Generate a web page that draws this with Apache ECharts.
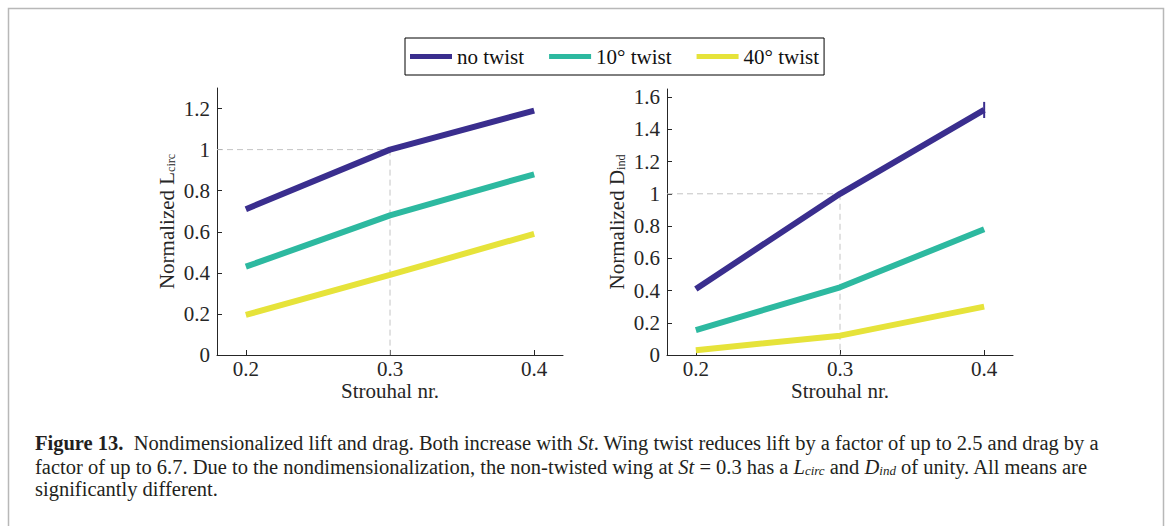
<!DOCTYPE html>
<html>
<head>
<meta charset="utf-8">
<script src="https://cdn.jsdelivr.net/npm/echarts@6/dist/echarts.min.js"></script>
<style>
html,body{margin:0;padding:0;background:#fff;}
#chart{width:1168px;height:526px;}
</style>
</head>
<body>
<div id="chart"></div>
<script>
// ---- data ----
const seriesNames = ['no twist', '10\u00b0 twist', '40\u00b0 twist'];
const strouhal = [0.2, 0.3, 0.4];
const liftNoTwist = [0.71, 1.0, 1.19];
const lift10 = [0.43, 0.68, 0.88];
const lift40 = [0.195, 0.39, 0.59];
const dragNoTwist = [0.41, 1.0, 1.52];
const drag10 = [0.155, 0.42, 0.78];
const drag40 = [0.03, 0.12, 0.30];
const dragNoTwistErr = [null, null, 0.05];
const xTicks = [0.2, 0.3, 0.4];
const liftTicks = [0, 0.2, 0.4, 0.6, 0.8, 1, 1.2];
const dragTicks = [0, 0.2, 0.4, 0.6, 0.8, 1, 1.2, 1.4, 1.6];
const refPoint = [0.3, 1];

// ---- styles ----
const colors = ['#3a2e8e', '#2db9a0', '#e6e33a'];
const FONT = 'Liberation Serif';
const axisColor = '#262626';
const refStyle = {stroke: '#c4c4c4', lineWidth: 1, lineDash: [6, 4]};

function pairs(xs, ys) { return xs.map((x, i) => [x, ys[i]]); }

function xAxisCfg(gridIndex) {
  return {
    type: 'value', gridIndex, min: 0.18, max: 0.42,
    name: 'Strouhal nr.', nameLocation: 'middle', nameGap: 25, nameMoveOverlap: false,
    nameTextStyle: {fontFamily: FONT, fontSize: 21, color: axisColor},
    axisLine: {show: true, lineStyle: {color: axisColor, width: 1}},
    axisTick: {show: true, inside: true, length: 5, customValues: xTicks, lineStyle: {color: axisColor}},
    axisLabel: {customValues: xTicks, fontFamily: FONT, fontSize: 21, color: axisColor, margin: 3,
      formatter: v => v.toFixed(1)},
    splitLine: {show: false}
  };
}
function yAxisCfg(gridIndex, max, ticks, sub, main) {
  return {
    type: 'value', gridIndex, min: 0, max: max,
    name: '{m|' + main + '}{s|' + sub + '}', nameLocation: 'middle', nameRotate: 90, nameGap: 40, nameMoveOverlap: false,
    nameTextStyle: {fontFamily: FONT, fontSize: 21, color: axisColor,
      rich: {
        m: {fontFamily: FONT, fontSize: 21, color: axisColor, lineHeight: 24, verticalAlign: 'bottom'},
        s: {fontFamily: FONT, fontSize: 12, color: axisColor, lineHeight: 12, verticalAlign: 'bottom'}
      }},
    axisLine: {show: true, lineStyle: {color: axisColor, width: 1}},
    axisTick: {show: true, inside: true, length: 5, customValues: ticks, lineStyle: {color: axisColor}},
    axisLabel: {customValues: ticks, fontFamily: FONT, fontSize: 21, color: axisColor, margin: 7},
    splitLine: {show: false}
  };
}

function lineSeries(name, xi, ys, ci) {
  return {
    type: 'line', name, xAxisIndex: xi, yAxisIndex: xi, data: pairs(strouhal, ys),
    showSymbol: false, symbol: 'none', lineStyle: {color: colors[ci], width: 6}, itemStyle: {color: colors[ci]},
    z: 3, silent: true, animation: false
  };
}

function refSeries(xi) {
  return {
    type: 'custom', xAxisIndex: xi, yAxisIndex: xi, data: [refPoint], z: 1, silent: true, animation: false,
    renderItem: function (params, api) {
      const p = api.coord([api.value(0), api.value(1)]);
      const o = api.coord([api.value(0), 0]);
      const left = params.coordSys.x;
      return {type: 'group', children: [
        {type: 'line', shape: {x1: left, y1: p[1], x2: p[0], y2: p[1]}, style: refStyle},
        {type: 'line', shape: {x1: p[0], y1: p[1], x2: p[0], y2: o[1]}, style: refStyle}
      ]};
    }
  };
}

const errData = strouhal.map((x, i) => dragNoTwistErr[i] == null ? null : [x, dragNoTwist[i], dragNoTwistErr[i]]).filter(d => d);

const CAP = 20.5;
const captionRich = {
  b: {fontFamily: FONT, fontSize: CAP, fontWeight: 'bold', fill: '#231f20'},
  i: {fontFamily: FONT, fontSize: CAP, fontStyle: 'italic', fill: '#231f20'},
  s: {fontFamily: FONT, fontSize: 13, fontStyle: 'italic', fill: '#231f20', verticalAlign: 'bottom', lineHeight: 13}
};
function captionLine(text, y) {
  return {type: 'text', left: 35, top: y, silent: true,
    style: {text, fontFamily: FONT, fontSize: CAP, fill: '#231f20', rich: captionRich}};
}

const chart = echarts.init(document.getElementById('chart'), null, {renderer: 'svg'});
chart.setOption({
  backgroundColor: '#fff',
  animation: false,
  textStyle: {fontFamily: FONT},
  legend: {
    data: seriesNames, left: 405, top: 38, orient: 'horizontal',
    icon: 'rect', itemWidth: 42, itemHeight: 5, itemGap: 25,
    padding: [8, 5, 8, 5], borderColor: '#000', borderWidth: 1,
    textStyle: {fontFamily: FONT, fontSize: 21, color: '#111'},
    selectedMode: false
  },
  grid: [
    {left: 217, top: 88, width: 346, height: 267},
    {left: 667, top: 89, width: 346, height: 266}
  ],
  xAxis: [xAxisCfg(0), xAxisCfg(1)],
  yAxis: [
    yAxisCfg(0, 1.3, liftTicks, 'circ', 'Normalized L'),
    yAxisCfg(1, 1.65, dragTicks, 'ind', 'Normalized D')
  ],
  graphic: [
    {type: 'rect', left: 6, top: 6, silent: true, z: -10,
      shape: {width: 1155, height: 519}, style: {fill: 'none', stroke: '#b8b8b8', lineWidth: 1.5}},
    captionLine('{b|Figure 13.}  Nondimensionalized lift and drag. Both increase with {i|St}. Wing twist reduces lift by a factor of up to 2.5 and drag by a', 432),
    captionLine('factor of up to 6.7. Due to the nondimensionalization, the non-twisted wing at {i|St} = 0.3 has a {i|L}{s|circ} and {i|D}{s|ind} of unity. All means are', 456),
    captionLine('significantly different.', 478)
  ],
  series: [
    refSeries(0), refSeries(1),
    lineSeries(seriesNames[0], 0, liftNoTwist, 0),
    lineSeries(seriesNames[1], 0, lift10, 1),
    lineSeries(seriesNames[2], 0, lift40, 2),
    lineSeries(seriesNames[0], 1, dragNoTwist, 0),
    lineSeries(seriesNames[1], 1, drag10, 1),
    lineSeries(seriesNames[2], 1, drag40, 2),
    {
      type: 'custom', xAxisIndex: 1, yAxisIndex: 1, data: errData, z: 4, silent: true, animation: false,
      renderItem: function (params, api) {
        const top = api.coord([api.value(0), api.value(1) + api.value(2)]);
        const bot = api.coord([api.value(0), api.value(1) - api.value(2)]);
        return {type: 'line', shape: {x1: top[0], y1: top[1], x2: bot[0], y2: bot[1]},
          style: {stroke: colors[0], lineWidth: 2}};
      }
    }
  ]
});
</script>
</body>
</html>
